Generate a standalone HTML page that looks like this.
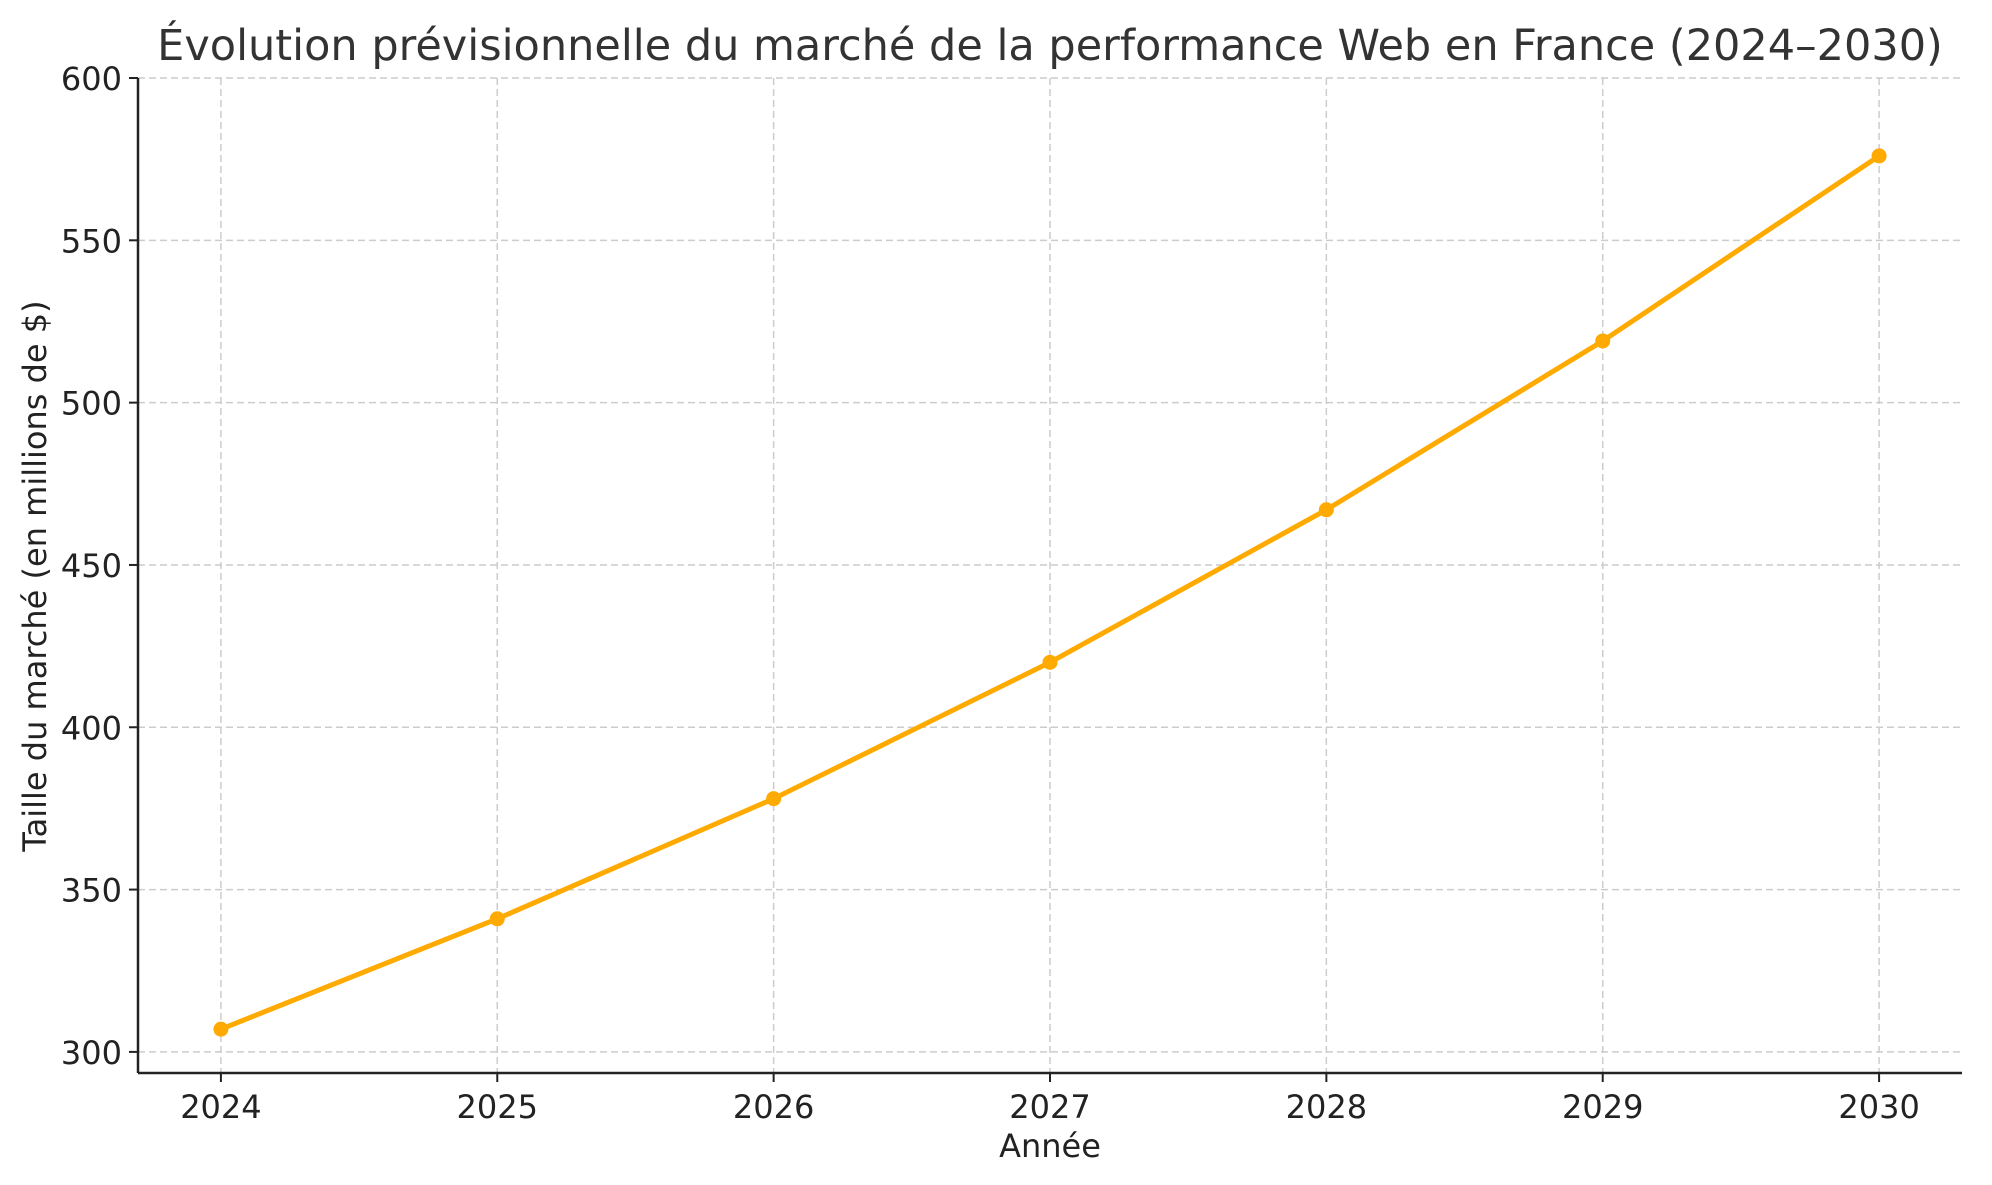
<!DOCTYPE html>
<html><head><meta charset="utf-8"><style>
html,body{margin:0;padding:0;background:#fff;}
svg text{font-family:"DejaVu Sans","Liberation Sans",sans-serif;}
</style></head><body>
<svg id="chart" width="1992" height="1180" xmlns="http://www.w3.org/2000/svg">
<text x="1050" y="60" font-size="43" fill="#333" text-anchor="middle">Évolution prévisionnelle du marché de la performance Web en France (2024–2030)</text>
<g id="grid"></g>
<g id="axes"></g>
<g id="series"></g>
<text x="1050" y="1157" font-size="32" fill="#222" text-anchor="middle">Année</text>
<text transform="translate(46,576) rotate(-90)" font-size="32" fill="#222" text-anchor="middle">Taille du marché (en millions de $)</text>
</svg>
<script>
const years = [2024, 2025, 2026, 2027, 2028, 2029, 2030];
const marketValues = [307, 341, 378, 420, 467, 519, 576];
const yTicks = [300, 350, 400, 450, 500, 550, 600];
const xTicks = [2024, 2025, 2026, 2027, 2028, 2029, 2030];

const L = 138, R = 1962, T = 78, B = 1073;
const xMin = 2023.7, xMax = 2030.3, yMin = 293.5, yMax = 600;
const xs = v => L + (v - xMin) / (xMax - xMin) * (R - L);
const ys = v => B - (v - yMin) / (yMax - yMin) * (B - T);
const NS = 'http://www.w3.org/2000/svg';
function mk(tag, attrs, parent) {
  const e = document.createElementNS(NS, tag);
  for (const k in attrs) e.setAttribute(k, attrs[k]);
  parent.appendChild(e);
  return e;
}
const grid = document.getElementById('grid');
const axes = document.getElementById('axes');
const series = document.getElementById('series');

yTicks.forEach(t => {
  const y = ys(t);
  const g = mk('line', {x1: L, x2: R, y1: y, y2: y, stroke: '#cccccc', 'stroke-width': 1.5, 'stroke-dasharray': '7,4'}, grid);
  
  
  const tk = mk('line', {x1: L - 9, x2: L, y1: y, y2: y, stroke: '#222', 'stroke-width': 2}, axes);
  
  
  const lb = mk('text', {x: L - 16, y: y + 12, 'font-size': 32, fill: '#222', 'text-anchor': 'end'}, axes);
  lb.textContent = t;
  
  
});
xTicks.forEach(t => {
  const x = xs(t);
  const g = mk('line', {x1: x, x2: x, y1: T, y2: B, stroke: '#cccccc', 'stroke-width': 1.5, 'stroke-dasharray': '7,4'}, grid);
  
  
  const tk = mk('line', {x1: x, x2: x, y1: B, y2: B + 9, stroke: '#222', 'stroke-width': 2}, axes);
  
  
  const lb = mk('text', {x: x, y: B + 45, 'font-size': 32, fill: '#222', 'text-anchor': 'middle'}, axes);
  lb.textContent = t;
  
  
});
const ya = mk('line', {x1: L, x2: L, y1: T, y2: B, stroke: '#222', 'stroke-width': 2.5}, axes);


const xa = mk('line', {x1: L, x2: R, y1: B, y2: B, stroke: '#222', 'stroke-width': 2.5}, axes);



const pts = years.map((yr, i) => xs(yr) + ',' + ys(marketValues[i])).join(' ');
const pl = mk('polyline', {points: pts, fill: 'none', stroke: '#FFAA00', 'stroke-width': 5, 'stroke-linejoin': 'round'}, series);


years.forEach((yr, i) => {
  const c = mk('circle', {cx: xs(yr), cy: ys(marketValues[i]), r: 7.5, fill: '#FFAA00'}, series);
  
  
});
</script>
</body></html>
